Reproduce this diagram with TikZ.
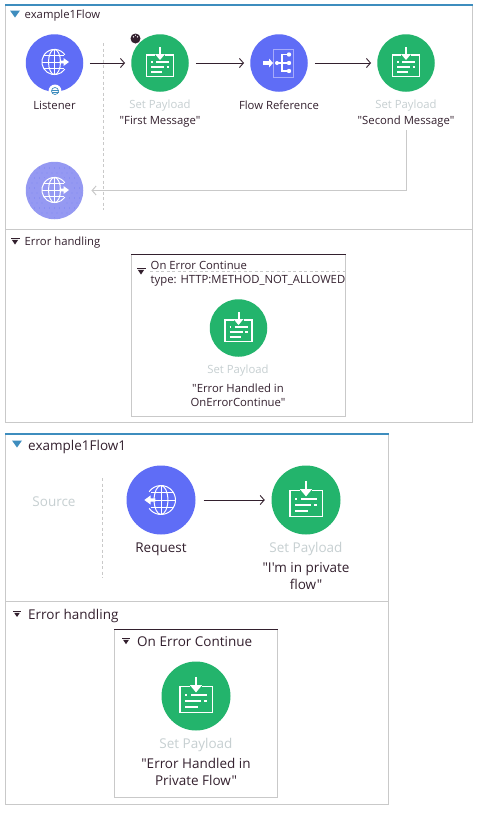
\documentclass[tikz,border=0pt]{standalone}
\usepackage{fontspec}
\setmainfont{Open Sans}[Ligatures=TeXOff]
\usetikzlibrary{arrows.meta}
\definecolor{mblue}{HTML}{5F6DF6}
\definecolor{mlight}{HTML}{9599F2}
\definecolor{mgreen}{HTML}{23B46C}
\definecolor{mtop}{HTML}{3E8DBE}
\definecolor{mline}{HTML}{C9C9C9}
\definecolor{mtext}{HTML}{33202E}
\definecolor{mgrey}{HTML}{C6CFD1}
\definecolor{mflow}{HTML}{A6ABFA}
\tikzset{
  x=1pt,y=-1pt,
  panel/.style={draw=mline,line width=1pt,fill=none},
  topbar/.style={draw=mtop,line width=2pt},
  dashsep/.style={draw=mline,line width=.9pt,dash pattern=on 3pt off 2.5pt},
  conn/.style={draw=mtext,line width=.9pt,-{Straight Barb[length=4pt,width=9pt]}},
  retconn/.style={draw=mline,line width=1pt,-{Straight Barb[length=4pt,width=9pt]}},
  opA/.style={circle,inner sep=0,minimum size=57.5pt,fill=mblue},
  opB/.style={opA,fill=mgreen},
  opC/.style={circle,inner sep=0,minimum size=69pt,fill=mblue},
  opD/.style={opC,fill=mgreen},
  lab/.style={text=mtext,font=\fontsize{11.3}{14}\selectfont,inner sep=0,align=center},
  labg/.style={lab,text=mgrey},
  labbig/.style={text=mtext,font=\fontsize{13.5}{17}\selectfont,inner sep=0,align=center},
  labbigg/.style={labbig,text=mgrey},
  pics/payload/.style={code={
    \draw[white,line width=1.4pt] (-5,-8) -- (-13.5,-8) -- (-13.5,13.5) -- (13.5,13.5) -- (13.5,-8) -- (5,-8);
    \draw[white,line width=2pt] (0,-16) -- (0,-9);
    \fill[white] (-5,-9) -- (5,-9) -- (0,-3) -- cycle;
    \draw[white,line width=1.7pt] (-9,-1) -- (-7.5,-1) (-4,-1) -- (9,-1)
      (-9,4) -- (4,4) (6.5,4) -- (9,4) (-9,9) -- (2,9);
  }},
  pics/globe/.style={code={
    \draw[white,line width=1pt] (35:12.6) arc[start angle=35,end angle=325,radius=12.6];
    \draw[white,line width=1pt] (0,12.6) arc[start angle=90,end angle=270,x radius=6,y radius=12.6];
    \draw[white,line width=1pt] (0,12.6) arc[start angle=90,end angle=-90,x radius=6,y radius=12.6];
    \draw[white,line width=1pt] (0,-12.6) -- (0,12.6) (-12.5,0) -- (5,0) (-10.5,-6.5) -- (9,-6.5) (-10.5,6.5) -- (9,6.5);
    \fill[white] (5,-1.4) -- (9,-1.4) -- (9,-4) -- (14.5,0) -- (9,4) -- (9,1.4) -- (5,1.4) -- cycle;
  }},
  pics/flowicon/.style={code={
    \draw[mflow,line width=1pt] (-5.7,-13.7) rectangle (14.7,14);
    \fill[white] (-16,-1.8) -- (-10,-1.8) -- (-10,-4.5) -- (-6,0) -- (-10,4.5) -- (-10,1.8) -- (-16,1.8) -- cycle;
    \draw[white,line width=1.1pt] (-2,0) -- (10,0) (3,0) -- (3,-8.5) -- (10,-8.5) (3,0) -- (3,8) -- (10,8);
    \fill[white] (-2,0) circle (2) (10,0) circle (2.2) (10,-8.5) circle (2.2) (10,8) circle (2.2);
  }},
  pics/openmark/.style={code={\fill[mtop] (-5,-3.5) -- (5,-3.5) -- (0,3.5) -- cycle;}},
  pics/errmark/.style={code={
    \fill[mtext] (-4.5,-3) rectangle (4.5,-1.8);
    \fill[mtext] (-3.2,-1.2) -- (3.2,-1.2) -- (0,3.5) -- cycle;
  }},
}
\begin{document}
\begin{tikzpicture}
\useasboundingbox (0,0) rectangle (495,815);
\fill[white] (0,0) rectangle (495,815);

% first flow panel
\draw[panel] (5.5,5) rectangle (472.5,422.5);
\draw[panel] (5.5,229.5) -- (472.5,229.5);
\draw[topbar] (5,5) -- (473,5);
\draw[dashsep] (103.5,43) -- (103.5,210);
\pic at (15,14) {openmark};
\node[lab,anchor=west] (t1) at (24.5,15.5) {example1Flow};

\node[opA] (listener) at (54.5,63) {};
\pic at (54.5,62) {globe};
\fill[white] (55,91) circle (6.5);
\draw[mtop,line width=.7pt] (55,91) circle (3.5);
\draw[mtop,line width=.7pt] (51.5,90) -- (58.5,90) (51.5,92) -- (58.5,92);
\node[opB] (sp1) at (160,63) {};
\pic at (160,63) {payload};
\fill[mtext] (135.5,38.5) circle (5);
\fill[white] (133.5,36.8) circle (.8) (137.5,36.8) circle (.8) (135.5,35.2) circle (.7);
\node[opA] (fref) at (279,63) {};
\pic at (279,63) {flowicon};
\node[opB] (sp2) at (406,63) {};
\pic at (406,63) {payload};
\node[lab] (llistener) at (54.5,105) {Listener};
\node[labg] (lsp1) at (160,106) {Set Payload};
\node[lab] (msg1) at (160,122) {"First Message"};
\node[lab] (lfref) at (279,105) {Flow Reference};
\node[labg] (lsp2) at (406,106) {Set Payload};
\node[lab] (msg2) at (406,122) {"Second Message"};
\node[circle,inner sep=0,minimum size=57.5pt,fill=mlight] (ret) at (54.5,190.5) {};
\begin{scope}
\clip (54.5,190.5) circle (27.5);
\foreach \i in {0,...,11} \foreach \j in {0,...,11}
  \fill[mblue] ({27+5*\i+mod(\j,2)*2.5},{163+5*\j}) circle (.4);
\end{scope}
\fill[mlight] (54.5,190.5) circle (16);
\pic at (54.5,190) {globe};
\draw[conn,shorten <=6.5pt,shorten >=6pt] (listener) -- (sp1);
\draw[conn,shorten <=7pt,shorten >=6pt] (sp1) -- (fref);
\draw[conn,shorten <=7pt,shorten >=6pt] (fref) -- (sp2);
\draw[retconn,shorten >=8pt] (msg2.south) ++(0,2) |- (ret);

\pic at (15,241) {errmark};
\node[lab,anchor=west] (eh1) at (24.5,243) {Error handling};
\draw[panel] (131.5,254.5) rectangle (345.5,416);
\draw[mtext,line width=1pt] (131,254.5) -- (346,254.5);
\draw[dashsep] (150,271) -- (345,271);
\pic at (141,271) {errmark};
\node[lab,anchor=west] (oec1) at (150.5,265) {On Error Continue};
\node[lab,anchor=west] (oect) at (150.5,281) {type: HTTP:METHOD\_NOT\_ALLOWED};
\node[opB] (sp3) at (238.5,328) {};
\pic at (238.5,328) {payload};
\node[labg] (lsp3) at (238,371) {Set Payload};
\node[lab] (msg3) at (238,395) {"Error Handled in\\OnErrorContinue"};

% second flow panel
\draw[panel] (5.5,433.5) rectangle (388,804.5);
\draw[panel] (5.5,601.5) -- (388,601.5);
\draw[topbar] (5,433.5) -- (388.5,433.5);
\draw[dashsep] (102.5,478) -- (102.5,578);
\pic at (17,444) {openmark};
\node[labbig,anchor=west] (t2) at (28,446.5) {example1Flow1};
\node[labbigg] (src) at (54,501.5) {Source};
\node[opC] (req) at (161,500) {};
\pic[xscale=-1.15,yscale=1.15] at (161,500) {globe};
\node[opD] (sp4) at (306,500) {};
\pic[scale=1.2] at (306,500) {payload};
\draw[conn,shorten <=8pt,shorten >=6.5pt] (req) -- (sp4);
\node[labbig] (lreq) at (161,549) {Request};
\node[labbigg] (lsp4) at (306,549) {Set Payload};
\node[labbig] (msg4) at (306,576.5) {"I'm in private\\flow"};

\pic[scale=.85] at (17,614) {errmark};
\node[labbig,anchor=west] (eh2) at (28,616) {Error handling};
\draw[panel] (114.5,629.5) rectangle (277.5,797);
\draw[mtext,line width=1pt] (114,629.5) -- (278,629.5);
\pic[scale=.9] at (126,641) {errmark};
\node[labbig,anchor=west] (oec2) at (137,641.5) {On Error Continue};
\node[opD] (sp5) at (196,696) {};
\pic[scale=1.2] at (196,696) {payload};
\node[labbigg] (lsp5) at (196,745) {Set Payload};
\node[labbig] (msg5) at (196,771.5) {"Error Handled in\\Private Flow"};
\end{tikzpicture}
\end{document}
